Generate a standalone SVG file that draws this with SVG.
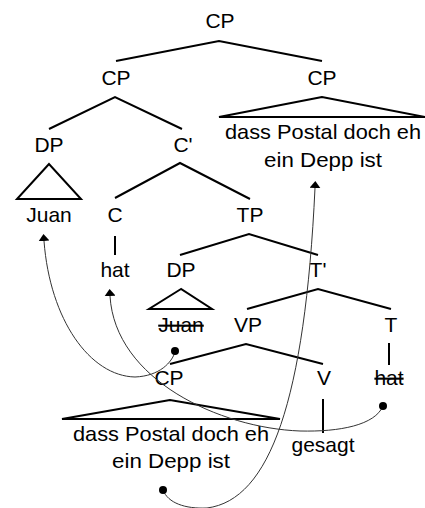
<svg xmlns="http://www.w3.org/2000/svg" width="425" height="508" viewBox="0 0 425 508">
<defs>
<style>
text{font-family:"Liberation Sans",Arial,sans-serif;font-size:21px;fill:#000;text-anchor:middle}
.e{stroke:#000;stroke-width:2;fill:none;stroke-linejoin:miter}
.c{stroke:#333;stroke-width:1;fill:none}
.s{text-decoration:line-through}
</style>
<marker id="ah" viewBox="0 0 7 11" refX="0" refY="5.5" markerWidth="7" markerHeight="11" markerUnits="userSpaceOnUse" orient="auto">
<path d="M0,0 L7,5.5 L0,11 Z" fill="#000"/>
</marker>
</defs>
<rect width="425" height="508" fill="#fff"/>
<g id="edges">
<polyline class="e" points="116,61 219,41 322,61"/>
<polyline class="e" points="49,129 115,97 182,129"/>
<polygon class="e" points="322,97 219,117 425,117"/>
<polyline class="e" points="115,198 180,163 250,199"/>
<polygon class="e" points="49,164 17,199 81,199"/>
<line class="e" x1="115" y1="236" x2="115" y2="255"/>
<polyline class="e" points="180,255 249,234 318,255"/>
<polygon class="e" points="181,289 149,309 212,309"/>
<polyline class="e" points="247,309 318,289 391,309"/>
<polyline class="e" points="170,364 246,344 323,364"/>
<line class="e" x1="389" y1="343" x2="389" y2="365"/>
<line class="e" x1="323" y1="399" x2="323" y2="433"/>
<polygon class="e" points="170,400 62,419 280,419"/>
</g>
<g id="nodes">
<g id="n-cp-root"><text x="220" y="28">CP</text></g>
<g id="n-cp-left"><text x="116" y="85">CP</text></g>
<g id="n-cp-right"><text x="322" y="85">CP</text></g>
<g id="n-cp-right-text"><text x="323" y="139" textLength="196" lengthAdjust="spacingAndGlyphs">dass Postal doch eh</text><text x="323" y="167" textLength="118" lengthAdjust="spacingAndGlyphs">ein Depp ist</text></g>
<g id="n-dp"><text x="49" y="152">DP</text></g>
<g id="n-cbar"><text x="183" y="152">C'</text></g>
<g id="n-juan"><text x="49" y="222">Juan</text></g>
<g id="n-c"><text x="115" y="222">C</text></g>
<g id="n-tp"><text x="250" y="222">TP</text></g>
<g id="n-hat"><text x="115" y="277">hat</text></g>
<g id="n-dp2"><text x="181" y="277">DP</text></g>
<g id="n-tbar"><text x="318" y="277">T'</text></g>
<g id="n-juan2"><text class="s" x="181" y="332">Juan</text></g>
<g id="n-vp"><text x="248" y="332">VP</text></g>
<g id="n-t"><text x="391" y="332">T</text></g>
<g id="n-cp-low"><text x="169" y="385">CP</text></g>
<g id="n-v"><text x="324" y="385">V</text></g>
<g id="n-hat2"><text class="s" x="389" y="385">hat</text></g>
<g id="n-cp-low-text"><text x="171" y="441" textLength="196" lengthAdjust="spacingAndGlyphs">dass Postal doch eh</text><text x="171" y="468" textLength="118" lengthAdjust="spacingAndGlyphs">ein Depp ist</text></g>
<g id="n-gesagt"><text x="323" y="452">gesagt</text></g>
</g>
<g id="connectors">
<path class="c" d="M175,352 C172,362 160,376 135,377 C90,376 50,320 44,241" marker-end="url(#ah)"/>
<circle cx="175" cy="351" r="4" fill="#000"/>
<path class="c" d="M383,406 C375,425 340,432 300,431 C220,428 115,380 110,296" marker-end="url(#ah)"/>
<circle cx="383" cy="406" r="4" fill="#000"/>
<path class="c" d="M163,490 C168,503 185,509 207,508 C270,500 305,400 315,188" marker-end="url(#ah)"/>
<circle cx="163" cy="490" r="4" fill="#000"/>
</g>
</svg>
